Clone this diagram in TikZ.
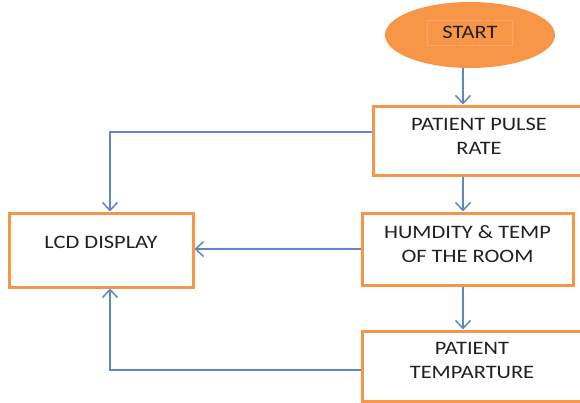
\documentclass[tikz,border=0pt]{standalone}
\usepackage{fontspec}
\setmainfont{Carlito}[FakeStretch=1.18]
\usetikzlibrary{shapes,arrows.meta,positioning,calc}
\definecolor{floworange}{HTML}{F79646}
\definecolor{flowblue}{HTML}{5A8AC6}
\definecolor{txtgray}{HTML}{202020}
\definecolor{lblorange}{HTML}{F9A56C}

\begin{document}
\begin{tikzpicture}[x=1pt,y=-1pt,
    box/.style={draw=floworange, line width=3pt, fill=white, inner sep=0pt},
    txt/.style={align=center, inner sep=0pt, text=txtgray, font=\fontsize{19}{24}\selectfont},
    arr/.style={draw=flowblue, line width=1.5pt, -{Straight Barb[length=8pt,width=15pt]}}]
    \useasboundingbox (0,0) rectangle (580,402);

    % Start
    \node[ellipse, fill=floworange, minimum width=170, minimum height=66] (start) at (470,35) {};
    \node[txt, draw=lblorange, line width=0.6pt, minimum width=85, minimum height=25] (starttxt) at (470,32.5) {START};

    % Sensors
    \node[box, minimum width=212, minimum height=69,
        label={[txt, yshift=4.5pt]center:PATIENT PULSE\\RATE}] (pulse) at (479,140.5) {};
    \node[box, minimum width=211, minimum height=72,
        label={[txt, yshift=4.5pt]center:HUMDITY \& TEMP\\OF THE ROOM}] (room) at (467.5,249) {};
    \node[box, minimum width=220, minimum height=70,
        label={[txt, yshift=6pt]center:PATIENT\\TEMPARTURE}] (temp) at (472,366) {};

    % Display
    \node[box, minimum width=184, minimum height=74,
        label={[txt, yshift=8pt]center:LCD DISPLAY}] (lcd) at (101,250) {};

    % Flow
    \coordinate (downx) at (463,0);
    \coordinate (lcdx) at (110,0);
    \draw[arr] (start.south -| downx) -- (pulse.north -| downx);
    \draw[arr] (pulse.south -| downx) -- (room.north -| downx);
    \draw[arr] (room.south -| downx) -- (temp.north -| downx);

    % To display
    \draw[arr] ([yshift=8.5pt]pulse.west) -| (lcd.north -| lcdx);
    \draw[arr] (room.west) -- (room.west -| lcd.east);
    \draw[arr] ([yshift=-4pt]temp.west) -| (lcd.south -| lcdx);
\end{tikzpicture}
\end{document}
